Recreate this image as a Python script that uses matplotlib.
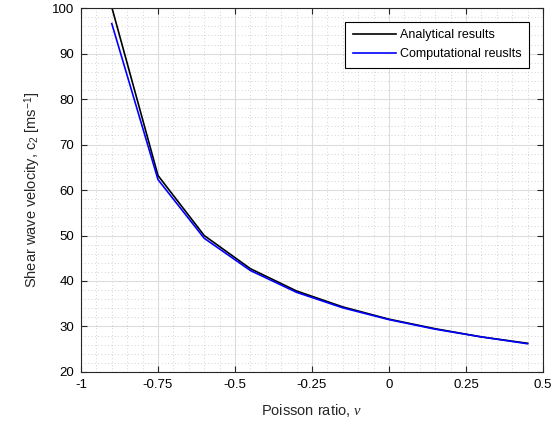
import matplotlib
matplotlib.use("Agg")
import matplotlib.pyplot as plt
from matplotlib.ticker import MultipleLocator

# --------------------------------------------------------
# Data
# --------------------------------------------------------
poisson = [-0.9, -0.75, -0.6, -0.45, -0.3, -0.15, 0.0, 0.15, 0.3, 0.45]
analytical = [100.2, 63.2, 50.0, 42.7, 37.8, 34.3, 31.6, 29.5, 27.7, 26.3]
computational = [96.6, 62.3, 49.4, 42.3, 37.5, 34.1, 31.5, 29.4, 27.7, 26.2]

xticks = [-1, -0.75, -0.5, -0.25, 0, 0.25, 0.5]
xticklabels = ["-1", "-0.75", "-0.5", "-0.25", "0", "0.25", "0.5"]
yticks = [20, 30, 40, 50, 60, 70, 80, 90, 100]

plt.rcParams["font.family"] = ["Liberation Sans", "DejaVu Sans"]
plt.rcParams["mathtext.fontset"] = "custom"
plt.rcParams["mathtext.rm"] = "Liberation Sans"
plt.rcParams["mathtext.it"] = "Liberation Serif:italic"

fig = plt.figure(figsize=(5.52, 4.28), dpi=100)
ax = fig.add_axes([0.1467, 0.131, 0.837, 0.850])

ax.plot(poisson, analytical, color="black", lw=1.2, label="Analytical results")
ax.plot(poisson, computational, color="blue", lw=1.2, label="Computational reuslts")

ax.set_xlim(-1, 0.5)
ax.set_ylim(20, 100)
ax.set_xticks(xticks)
ax.set_xticklabels(xticklabels)
ax.set_yticks(yticks)
ax.xaxis.set_minor_locator(MultipleLocator(0.05))
ax.yaxis.set_minor_locator(MultipleLocator(2))

ax.grid(True, which="major", color="#dcdcdc", lw=0.8)
ax.grid(True, which="minor", color="#c4c4c4", lw=0.6, ls=(0, (1, 3)))
ax.set_axisbelow(True)

ax.tick_params(which="both", direction="in", top=True, right=True,
               labelsize=9.5, color="#262626", pad=5)
ax.tick_params(which="major", length=4)
ax.tick_params(which="minor", length=0)
for s in ax.spines.values():
    s.set_color("#262626")
    s.set_linewidth(0.8)

ax.set_xlabel(r"Poisson ratio, $\nu$", fontsize=10.5, color="#262626", labelpad=8)
ax.set_ylabel(r"Shear wave velocity, c$_2$ [ms$^{-1}$]", fontsize=10.5,
              color="#262626", labelpad=6)

leg = ax.legend(loc="upper right", fontsize=9, fancybox=False, framealpha=1,
                edgecolor="black", borderaxespad=1.1, handlelength=3.5,
                handletextpad=0.3, borderpad=0.6, labelspacing=0.55)
leg.get_frame().set_linewidth(0.8)

fig.savefig("out.png", dpi=100)
